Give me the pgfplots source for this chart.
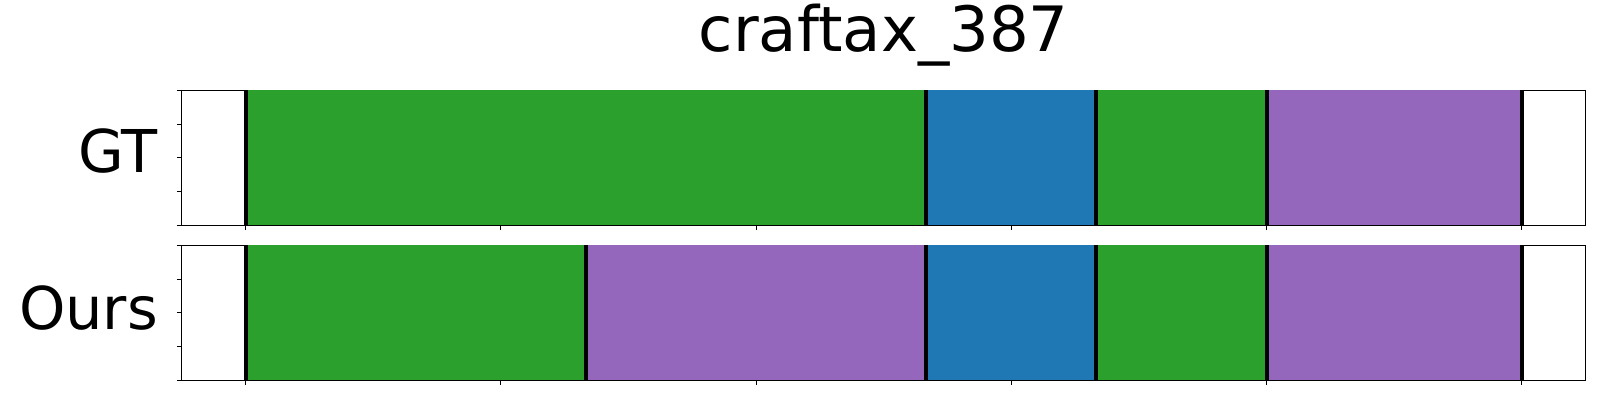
\documentclass[border=0pt]{standalone}
\usepackage{pgfplots}
\pgfplotsset{compat=1.18}
\usepackage{fontspec}
\setmainfont{DejaVu Sans}
\definecolor{tgreen}{HTML}{2CA02C}
\definecolor{tblue}{HTML}{1F77B4}
\definecolor{tpurple}{HTML}{9467BD}
\pgfplotsset{
  seg/.style={
    scale only axis, width=702bp, height=67.5bp, anchor=south west,
    xmin=-0.75, xmax=15.75, ymin=0, ymax=1,
    xtick={0,3,6,9,12,15}, ytick={0,0.25,0.5,0.75,1},
    xticklabels={}, yticklabels={},
    tick align=outside, tick pos=left, major tick length=2.4bp,
    tick style={black, line width=0.4bp},
    axis line style={line width=0.55bp},
    every axis y label/.style={at={(axis description cs:0,0.5)}, anchor=east, xshift=-8.4bp,
      font=\fontsize{29.5bp}{34bp}\selectfont},
  },
}
\begin{document}
\begin{tikzpicture}
\useasboundingbox (0,0) rectangle (800bp,200bp);
\begin{axis}[seg, at={(90.85bp,87.35bp)}, ylabel={GT}, ylabel style={yshift=3.3bp},
  title={craftax\_387},
  title style={at={(axis description cs:0.5,1)}, anchor=base, yshift=13.5bp,
    font=\fontsize{31.25bp}{36bp}\selectfont}]
\addplot[fill=tgreen, draw=none] coordinates {(0,1) (8,1)} \closedcycle;
\addplot[fill=tblue, draw=none] coordinates {(8,1) (10,1)} \closedcycle;
\addplot[fill=tgreen, draw=none] coordinates {(10,1) (12,1)} \closedcycle;
\addplot[fill=tpurple, draw=none] coordinates {(12,1) (15,1)} \closedcycle;
\addplot[ycomb, black, line width=2bp, mark=none] coordinates {(0,1) (8,1) (10,1) (12,1) (15,1)};
\end{axis}
\begin{axis}[seg, at={(90.85bp,9.85bp)}, ylabel={Ours}, ylabel style={yshift=2.3bp}]
\addplot[fill=tgreen, draw=none] coordinates {(0,1) (4,1)} \closedcycle;
\addplot[fill=tpurple, draw=none] coordinates {(4,1) (8,1)} \closedcycle;
\addplot[fill=tblue, draw=none] coordinates {(8,1) (10,1)} \closedcycle;
\addplot[fill=tgreen, draw=none] coordinates {(10,1) (12,1)} \closedcycle;
\addplot[fill=tpurple, draw=none] coordinates {(12,1) (15,1)} \closedcycle;
\addplot[ycomb, black, line width=2bp, mark=none] coordinates {(0,1) (4,1) (8,1) (10,1) (12,1) (15,1)};
\end{axis}
\end{tikzpicture}
\end{document}
